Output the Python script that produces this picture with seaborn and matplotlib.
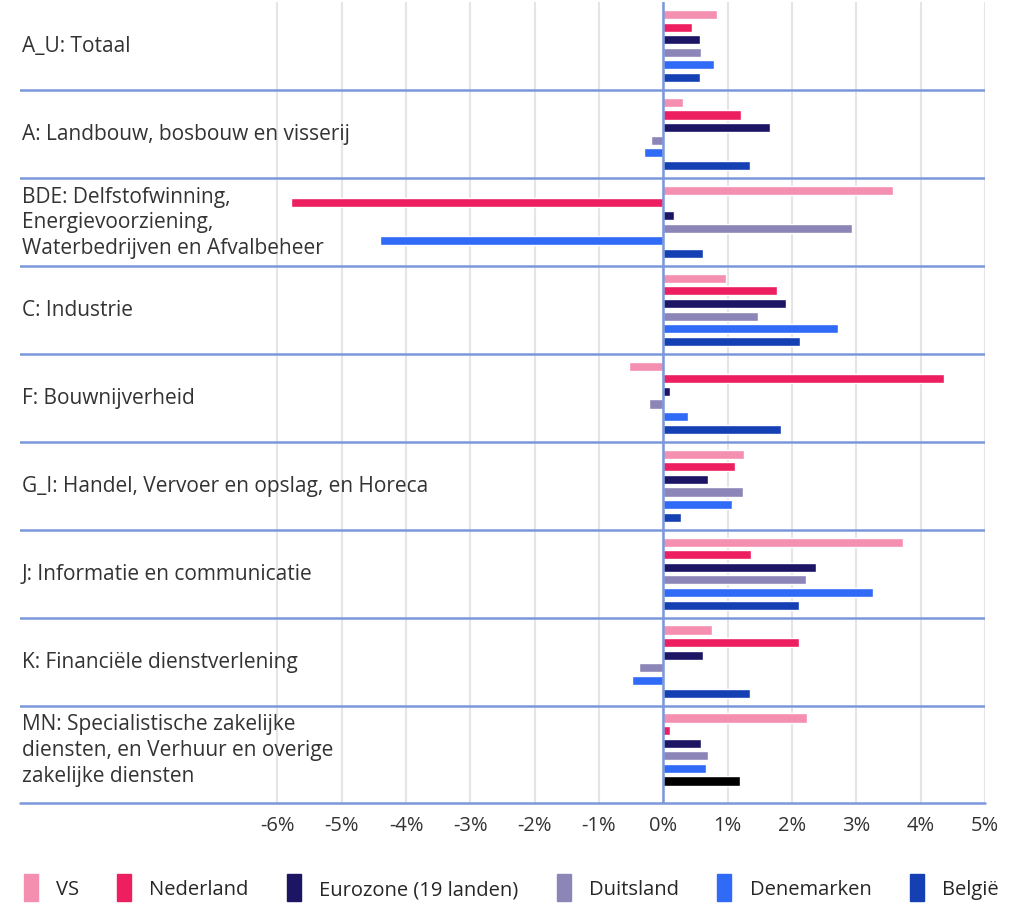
import numpy as np
import pandas as pd
import matplotlib
matplotlib.use("Agg")
import matplotlib.pyplot as plt
import seaborn as sns

categories = [
    "A_U: Totaal",
    "A: Landbouw, bosbouw en visserij",
    "BDE: Delfstofwinning,\nEnergievoorziening,\nWaterbedrijven en Afvalbeheer",
    "C: Industrie",
    "F: Bouwnijverheid",
    "G_I: Handel, Vervoer en opslag, en Horeca",
    "J: Informatie en communicatie",
    "K: Financiële dienstverlening",
    "MN: Specialistische zakelijke\ndiensten, en Verhuur en overige\nzakelijke diensten",
]
series = ["VS", "Nederland", "Eurozone (19 landen)", "Duitsland", "Denemarken", "België"]

vs = [0.84, 0.31, 3.57, 0.98, -0.53, 1.26, 3.73, 0.75, 2.23]
nederland = [0.44, 1.20, -5.79, 1.76, 4.36, 1.12, 1.37, 2.11, 0.10]
eurozone = [0.57, 1.66, 0.17, 1.90, 0.10, 0.69, 2.37, 0.61, 0.59]
duitsland = [0.59, -0.19, 2.93, 1.47, -0.22, 1.24, 2.21, -0.38, 0.69]
denemarken = [0.79, -0.30, -4.41, 2.71, 0.38, 1.06, 3.26, -0.49, 0.67]
belgie = [0.57, 1.34, 0.61, 2.13, 1.83, 0.28, 2.11, 1.34, 1.19]

colors = ["#f58fb0", "#ee1f60", "#1c1563", "#8c86b8", "#2f6bf6", "#1540b3"]
ticks = [-6, -5, -4, -3, -2, -1, 0, 1, 2, 3, 4, 5]

values = [vs, nederland, eurozone, duitsland, denemarken, belgie]
rows = []
for s, vals in zip(series, values):
    for c, v in zip(categories, vals):
        rows.append({"cat": c, "land": s, "val": v})
df = pd.DataFrame(rows)

sns.set_style("white")
plt.rcParams["font.family"] = ["Open Sans", "DejaVu Sans"]

fig = plt.figure(figsize=(10.22, 9.04), dpi=100)
ax = fig.add_axes([20 / 1022, 1 - 805 / 904, 965 / 1022, 802 / 904])

sns.barplot(data=df, y="cat", x="val", hue="land", order=categories,
            hue_order=series, palette=colors, saturation=1, width=0.86,
            gap=0.28, orient="h", ax=ax, legend=False)

# the last Belgium bar is black in the original
ax.containers[5][8].set_facecolor("black")

ax.set_xlim(-10, 5)
ax.set_ylim(8.62, -0.5)
ax.set_xticks(ticks)
ax.set_xticklabels([f"{t}%" for t in ticks], fontsize=14.5, color="#333333")
ax.set_yticks([])
ax.set_xlabel("")
ax.set_ylabel("")
ax.tick_params(axis="x", length=0, pad=8)
ax.grid(axis="x", color="#e4e4ea", linewidth=1.5)
ax.set_axisbelow(True)
for sp in ax.spines.values():
    sp.set_visible(False)

sep_col = "#7b98dc"
for i in range(len(categories) - 1):
    ax.axhline(i + 0.5, color=sep_col, linewidth=1.8, zorder=1)
ax.axhline(8.61, color=sep_col, linewidth=1.8, zorder=1, clip_on=False)
ax.axvline(0, color=sep_col, linewidth=1.8, zorder=1)

for i, c in enumerate(categories):
    ax.text(-9.97, i, c, ha="left", va="center", fontsize=15,
            color="#333333", linespacing=1.3)

handles = [plt.Rectangle((0, 0), 1, 1, color=col) for col in colors]
fig.legend(handles, series, loc="lower center", bbox_to_anchor=(0.5, -0.018),
           ncol=6, frameon=False, fontsize=14.5, handlelength=0.7,
           handleheight=1.7, columnspacing=1.9, handletextpad=0.9)

fig.savefig("out.png", dpi=100, facecolor="white")
